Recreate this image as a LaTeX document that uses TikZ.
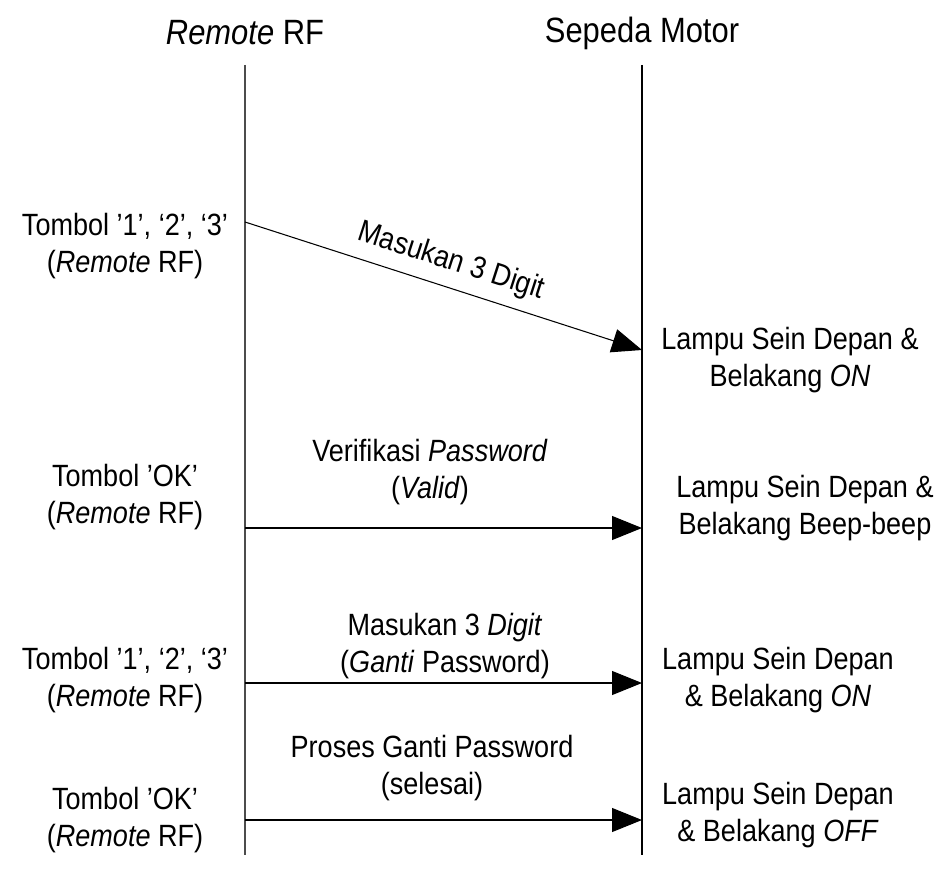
\documentclass[tikz,border=0pt]{standalone}
\usepackage{fontspec}
\setmainfont[FakeStretch=0.88]{Liberation Sans}
\usetikzlibrary{arrows.meta}

\begin{document}
\begin{tikzpicture}[x=0.02cm, y=-0.02cm,
        lifeline/.style={line width=0.6pt},
        msg/.style={-{Triangle[length=0.6cm, width=0.48cm]}, line width=0.6pt},
        head/.style={font=\fontsize{20}{24}\selectfont, inner sep=0pt},
        txt/.style={align=center, font=\fontsize{17.5}{21.5}\selectfont, inner sep=0pt}
    ]
    \useasboundingbox (0,0) rectangle (939,875);

    % lifelines
    \node[head] (remote) at (245,33) {\textit{Remote} RF};
    \node[head] (motor) at (642,33) {Sepeda Motor};
    \coordinate (rtop) at (245,65);
    \coordinate (rbot) at (245,855);
    \coordinate (mtop) at (642,65);
    \coordinate (mbot) at (642,855);
    \draw[lifeline, draw=black!70] (rtop) -- (rbot);
    \draw[lifeline] (mtop) -- (mbot);

    % 1: three digits
    \node[txt] (tb1) at (125,246) {Tombol '1', ‘2’, ‘3’\\(\textit{Remote} RF)};
    \node[txt] (ls1) at (790,360) {Lampu Sein Depan \&\\Belakang \textit{ON}};
    \coordinate (r1) at (245,222);
    \coordinate (m1) at (642,350);
    \draw[msg] (r1) -- node[txt, sloped, above=6pt, midway] (in1) {Masukan 3 Digit} (m1);

    % 2: OK, password check
    \node[txt] (tb2) at (125,497) {Tombol 'OK'\\(\textit{Remote} RF)};
    \node[txt] (ls2) at (805,508) {Lampu Sein Depan \&\\Belakang Beep-beep};
    \node[txt] (ver) at (430,472) {Verifikasi \textit{Password}\\(\textit{Valid})};
    \coordinate (r2) at (245,528);
    \coordinate (m2) at (642,528);
    \draw[msg] (r2) -- (m2);

    % 3: new digits
    \node[txt] (tb3) at (125,680) {Tombol '1', ‘2’, ‘3’\\(\textit{Remote} RF)};
    \node[txt] (ls3) at (778,680) {Lampu Sein Depan\\\& Belakang \textit{ON}};
    \node[txt] (in3) at (445,646) {Masukan 3 \textit{Digit}\\(\textit{Ganti} Password)};
    \coordinate (r3) at (245,683);
    \coordinate (m3) at (642,683);
    \draw[msg] (r3) -- (m3);

    % 4: OK, done
    \node[txt] (tb4) at (125,820) {Tombol 'OK'\\(\textit{Remote} RF)};
    \node[txt] (ls4) at (778,815) {Lampu Sein Depan\\\& Belakang \textit{OFF}};
    \node[txt] (gp) at (432,768) {Proses Ganti Password\\(selesai)};
    \coordinate (r4) at (245,820);
    \coordinate (m4) at (642,820);
    \draw[msg] (r4) -- (m4);
\end{tikzpicture}
\end{document}
